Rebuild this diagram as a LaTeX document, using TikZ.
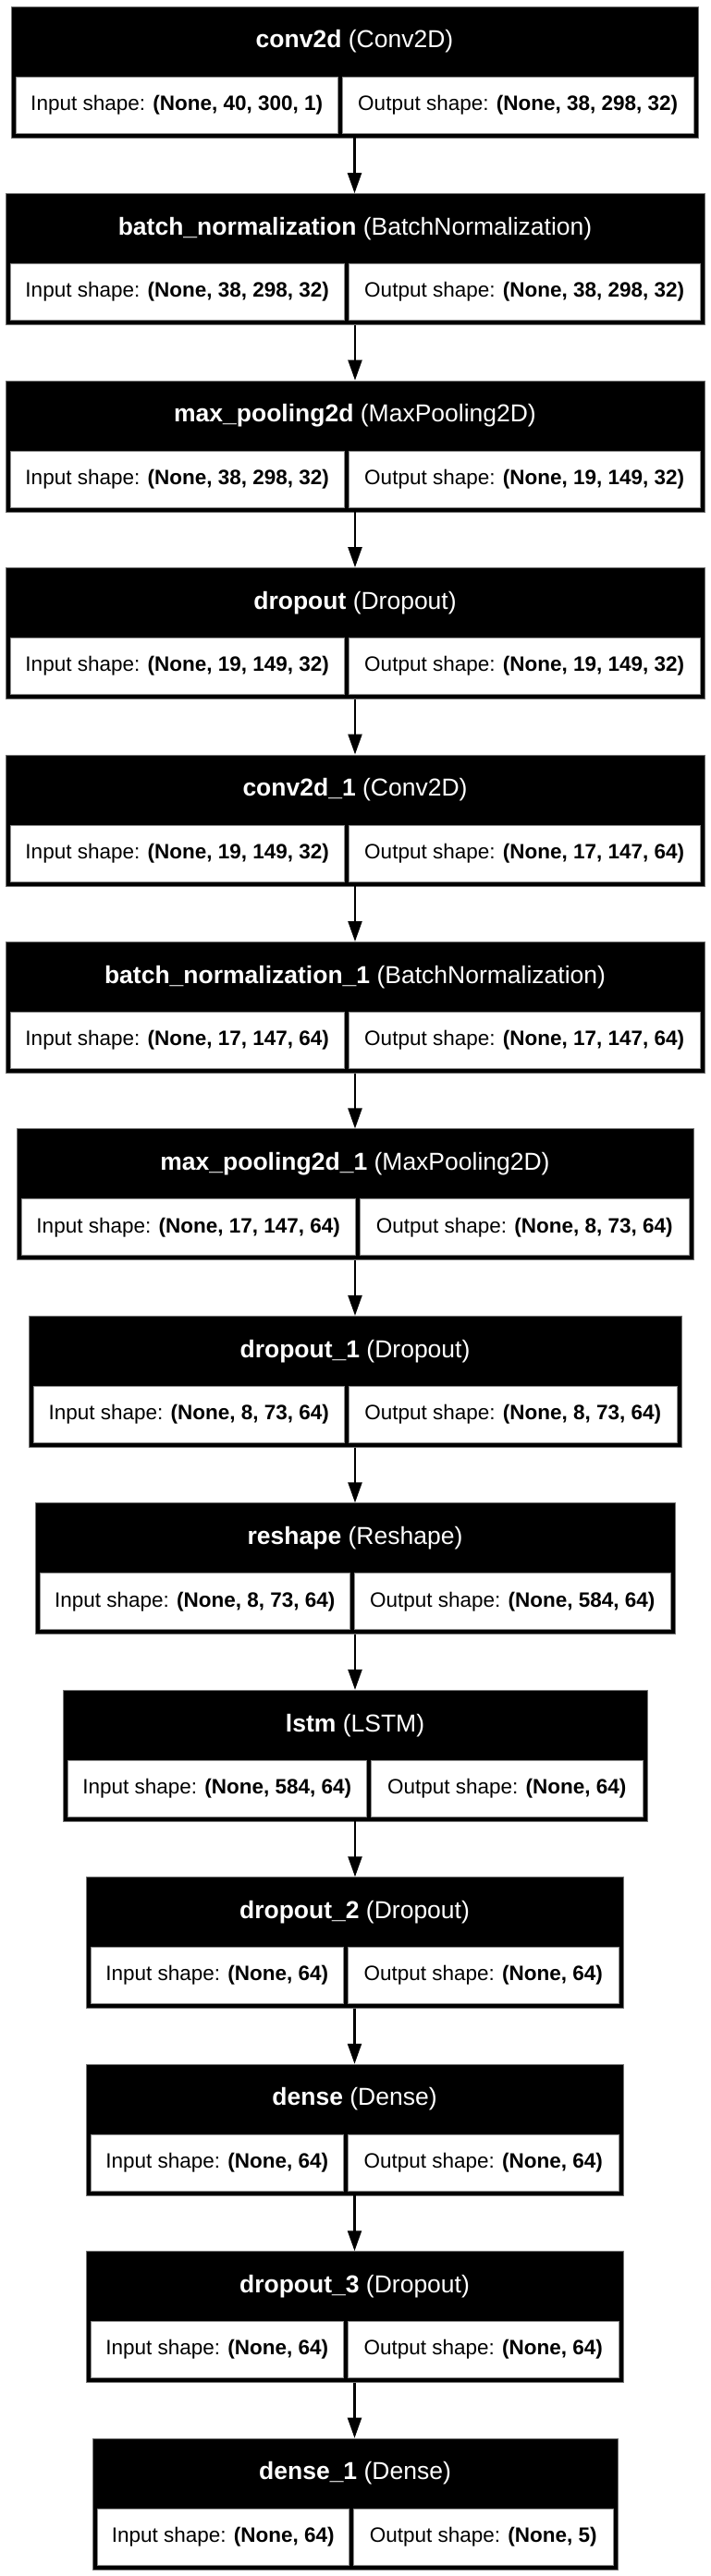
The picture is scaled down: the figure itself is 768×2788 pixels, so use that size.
\documentclass[tikz,border=0pt]{standalone}
\usepackage{fontspec}
\setmainfont{Liberation Sans}
\usetikzlibrary{arrows.meta}
\tikzset{
  outerbox/.style={rectangle, fill=black, draw=black!55, line width=0.6pt, inner sep=0pt, minimum height=142pt},
  cellbox/.style={rectangle, fill=white, draw=black!45, line width=0.6pt, inner sep=0pt, minimum height=61pt, text=black, font=\fontsize{22.5}{27}\selectfont},
  hdrtext/.style={inner sep=0pt, text=white, font=\fontsize{26.5}{32}\selectfont},
  arr/.style={line width=2.3pt, -{Triangle[length=22pt,width=15pt]}}
}
% #1 id, #2 top, #3 x1, #4 x2, #5 divider, #6 name, #7 type, #8 in, #9 out
\newcommand\mklayer[9]{%
  \node[outerbox, minimum width={#4-#3}] (#1) at ({(#3+#4)/2},{#2+71}) {};
  \node[hdrtext] (#1h) at ({(#3+#4)/2},{#2+38}) {\textbf{#6} (#7)};
  \node[cellbox, minimum width={#5-2.5-#3-5}] (#1i) at ({(#3+5+#5-2.5)/2},{#2+106.5}) {Input shape: \textbf{(#8)}};
  \node[cellbox, minimum width={#4-5-#5-2.5}] (#1o) at ({(#5+2.5+#4-5)/2},{#2+106.5}) {Output shape: \textbf{(#9)}};
}
\begin{document}
\begin{tikzpicture}[x=1pt,y=-1pt]
\useasboundingbox (0,0) rectangle (768,2788);
\fill[white] (0,0) rectangle (768,2788);
\mklayer{b0}{7}{12}{755}{368}{conv2d}{Conv2D}{None, 40, 300, 1}{None, 38, 298, 32}
\mklayer{b1}{209.46}{6}{762}{375}{batch\_normalization}{BatchNormalization}{None, 38, 298, 32}{None, 38, 298, 32}
\mklayer{b2}{411.92}{6}{762}{375}{max\_pooling2d}{MaxPooling2D}{None, 38, 298, 32}{None, 19, 149, 32}
\mklayer{b3}{614.38}{6}{762}{375}{dropout}{Dropout}{None, 19, 149, 32}{None, 19, 149, 32}
\mklayer{b4}{816.84}{6}{762}{375}{conv2d\_1}{Conv2D}{None, 19, 149, 32}{None, 17, 147, 64}
\mklayer{b5}{1019.3}{6}{762}{375}{batch\_normalization\_1}{BatchNormalization}{None, 17, 147, 64}{None, 17, 147, 64}
\mklayer{b6}{1221.76}{18}{750}{387}{max\_pooling2d\_1}{MaxPooling2D}{None, 17, 147, 64}{None, 8, 73, 64}
\mklayer{b7}{1424.22}{31}{737}{375}{dropout\_1}{Dropout}{None, 8, 73, 64}{None, 8, 73, 64}
\mklayer{b8}{1626.68}{38}{730}{381}{reshape}{Reshape}{None, 8, 73, 64}{None, 584, 64}
\mklayer{b9}{1829.14}{68}{700}{399}{lstm}{LSTM}{None, 584, 64}{None, 64}
\mklayer{b10}{2031.6}{93}{674}{374}{dropout\_2}{Dropout}{None, 64}{None, 64}
\mklayer{b11}{2234.06}{93}{674}{374}{dense}{Dense}{None, 64}{None, 64}
\mklayer{b12}{2436.52}{93}{674}{374}{dropout\_3}{Dropout}{None, 64}{None, 64}
\mklayer{b13}{2638.98}{100}{668}{380}{dense\_1}{Dense}{None, 64}{None, 5}
\foreach \a/\b in {b0/b1,b1/b2,b2/b3,b3/b4,b4/b5,b5/b6,b6/b7,b7/b8,b8/b9,b9/b10,b10/b11,b11/b12,b12/b13}
  \draw[arr] (\a.south) -- (\a.south |- \b.north);
\end{tikzpicture}
\end{document}
